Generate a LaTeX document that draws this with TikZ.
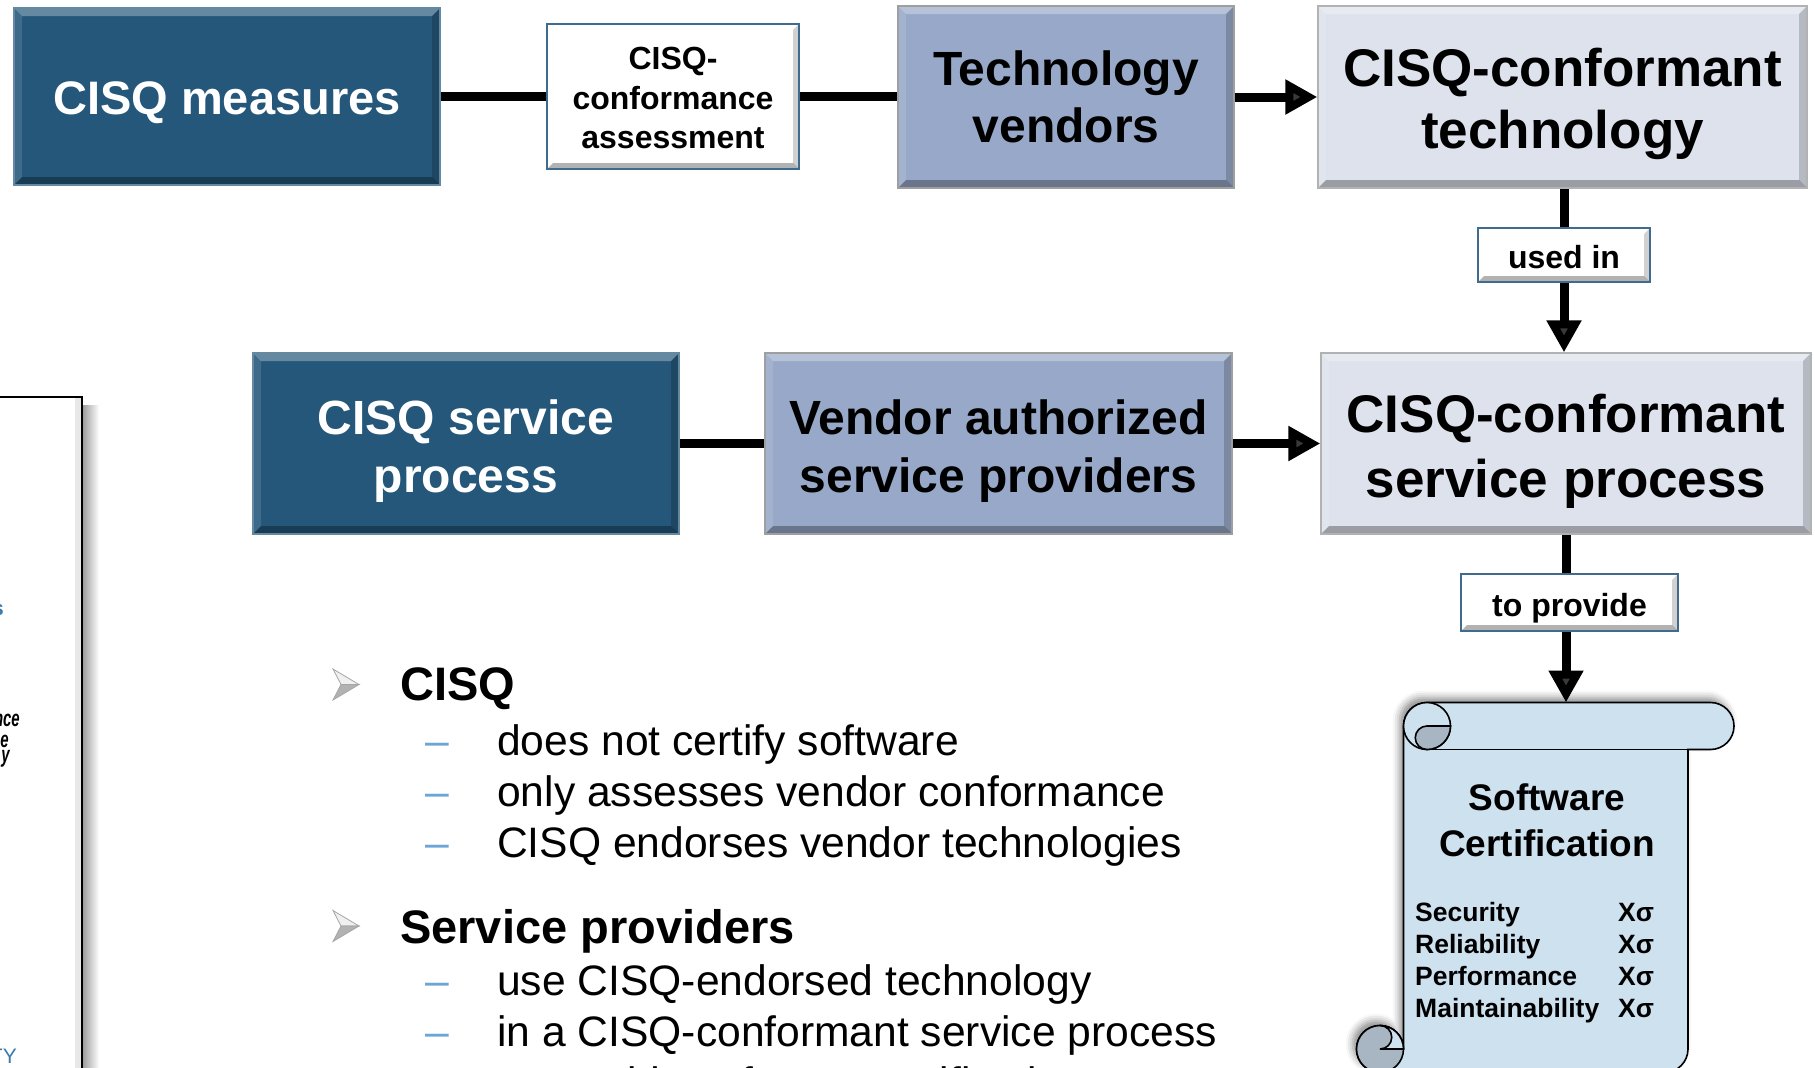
\documentclass[tikz,border=0pt]{standalone}
\usepackage{fontspec}
\usepackage{graphicx}
\setmainfont{Liberation Sans}
\usetikzlibrary{arrows.meta,calc,shadows.blur}
\definecolor{dblue}{HTML}{25577A}
\definecolor{mblue}{HTML}{97A8C8}
\definecolor{lblue}{HTML}{DDE2EC}
\definecolor{bordblue}{HTML}{3F6C8E}
\definecolor{scrollc}{HTML}{CDE1EF}
\definecolor{curlc}{HTML}{A7B6C2}
\definecolor{dashc}{HTML}{6CA6D6}
\definecolor{docblue}{HTML}{3B7AB0}
\tikzset{
  bevel/.style={path picture={
    \coordinate (bnw) at (path picture bounding box.north west);
    \coordinate (bne) at (path picture bounding box.north east);
    \coordinate (bsw) at (path picture bounding box.south west);
    \coordinate (bse) at (path picture bounding box.south east);
    \fill[white,opacity=.30] (bnw) -- (bne) -- ($(bne)+(-#1,#1)$) -- ($(bnw)+(#1,#1)$) -- cycle;
    \fill[white,opacity=.12] (bnw) -- ($(bnw)+(#1,#1)$) -- ($(bsw)+(#1,-#1)$) -- (bsw) -- cycle;
    \fill[black,opacity=.18] (bne) -- (bse) -- ($(bse)+(-#1,-#1)$) -- ($(bne)+(-#1,#1)$) -- cycle;
    \fill[black,opacity=.30] (bsw) -- (bse) -- ($(bse)+(-#1,-#1)$) -- ($(bsw)+(#1,-#1)$) -- cycle;
  }},
  box/.style={rectangle, inner sep=0pt, line width=1.2pt},
  darkbox/.style={box, fill=dblue, draw=dblue!70!white, bevel=8},
  midbox/.style={box, fill=mblue, draw=gray!75, bevel=8},
  lightbox/.style={box, fill=lblue, draw=gray!60, bevel=8},
  tagbox/.style={box, fill=white, draw=bordblue, line width=1.8pt, bevel=6},
  boxtext/.style={inner sep=0pt, align=center},
  darktext/.style={boxtext, text=white, font=\fontsize{47}{58}\selectfont\bfseries},
  midtext/.style={boxtext, font=\fontsize{48}{57}\selectfont\bfseries},
  lighttext/.style={boxtext, font=\fontsize{53}{62}\selectfont\bfseries},
  tagtext/.style={boxtext, font=\fontsize{32}{39.5}\selectfont\bfseries},
  link/.style={line width=9pt},
  arrowlink/.style={link, -{Triangle[length=32pt,width=33pt]}},
  head/.style={inner sep=0pt, anchor=base west, font=\fontsize{47}{56}\selectfont\bfseries},
  item/.style={inner sep=0pt, anchor=base west, font=\fontsize{42.6}{51}\selectfont},
  itemdash/.style={inner sep=0pt, anchor=base west, text=dashc, font=\fontsize{42.6}{51}\selectfont},
  certtext/.style={inner sep=0pt, anchor=base, font=\fontsize{37}{45}\selectfont\bfseries},
  metric/.style={inner sep=0pt, anchor=base west, font=\fontsize{26.5}{32}\selectfont\bfseries},
  frag/.style={inner sep=0pt, anchor=base east, font=\fontsize{23}{24}\selectfont\bfseries\itshape},
  scrollline/.style={line width=1.6pt},
}
\newcommand\arrbullet[2]{%
  \filldraw[fill=gray!12, draw=gray!70, line width=0.8pt] (#1,#2-15.5) -- (#1+26,#2) -- (#1+8,#2) -- cycle;
  \filldraw[fill=gray!60, draw=gray!70, line width=0.8pt] (#1,#2+15.5) -- (#1+26,#2) -- (#1+8,#2) -- cycle;}
\begin{document}
\begin{tikzpicture}[x=1pt,y=-1pt]
\useasboundingbox (0,0) rectangle (1815,1068);
\clip (0,0) rectangle (1815,1068);

% partial document page at left
\fill[white] (-20,397) rectangle (82,1090);
\fill[gray!18] (75,398) rectangle (82,1090);
\shade[left color=gray!80, right color=white] (82,405) rectangle (99,1090);
\draw[line width=1.6pt] (-20,397) -- (82,397) -- (82,1090);
\node[inner sep=0pt, anchor=base east, text=docblue, font=\fontsize{21}{22}\selectfont\bfseries] (fs) at (4,615) {s};
\node[frag] (fnce) at (20,726) {\scalebox{0.65}[1]{nce}};
\node[frag] (fe) at (9,747) {\scalebox{0.65}[1]{e}};
\node[frag] (fy) at (10,762) {\scalebox{0.65}[1]{y}};
\node[inner sep=0pt, anchor=base east, text=docblue, font=\fontsize{21}{24}\selectfont] (fty) at (17,1063) {TY};

% top row boxes
\node[darkbox, minimum width=426pt, minimum height=177pt] (A) at (227,96.5) {};
\node[tagbox, line width=1.5pt, minimum width=252pt, minimum height=145pt] (B) at (673,96.5) {};
\node[midbox, minimum width=336pt, minimum height=182pt] (C) at (1066,97) {};
\node[lightbox, minimum width=489pt, minimum height=182pt] (D) at (1562.5,97) {};
\node[tagbox, minimum width=172pt, minimum height=54pt] (U) at (1564,255) {};
% middle row boxes
\node[darkbox, minimum width=426pt, minimum height=181pt] (F) at (466,443.5) {};
\node[midbox, minimum width=467pt, minimum height=181pt] (G) at (998.5,443.5) {};
\node[lightbox, minimum width=490pt, minimum height=181pt] (E) at (1566,443.5) {};
\node[tagbox, minimum width=217pt, minimum height=57pt] (P) at (1569.5,602.5) {};

% box texts
\node[darktext] (At) at (227,102.5) {CISQ measures};
\node[tagtext] (Bt) at (673,98) {CISQ-\\conformance\\assessment};
\node[midtext] (Ct) at (1066,97) {Technology\\vendors};
\node[lighttext] (Dt) at (1562.5,103.5) {CISQ-conformant\\technology};
\node[tagtext] (Ut) at (1564,257) {used in};
\node[darktext, font=\fontsize{48}{58}\selectfont\bfseries] (Ft) at (466,451) {CISQ service\\process};
\node[midtext, font=\fontsize{48}{58}\selectfont\bfseries] (Gt) at (998.5,451) {Vendor authorized\\service providers};
\node[lighttext, font=\fontsize{53}{65}\selectfont\bfseries] (Et) at (1566,451) {CISQ-conformant\\service process};
\node[tagtext] (Pt) at (1569.5,608.5) {to provide};

% scroll
\coordinate (ST) at (1566,702.5);
\path[fill=scrollc, draw=black, scrollline,
      blur shadow={shadow xshift=-4pt, shadow yshift=5pt, shadow blur radius=7pt, shadow opacity=45}]
  (1403.5,726) arc[start angle=180, end angle=270, radius=23.5]
  -- (1710.5,702.5) arc[start angle=-90, end angle=90, radius=23.5]
  -- (1688,749.5) -- (1688,1049) arc[start angle=0, end angle=90, radius=23.5]
  -- (1380,1072.5) arc[start angle=90, end angle=360, radius=23.5]
  -- cycle;
\filldraw[fill=scrollc, scrollline] (1427,726) circle[radius=23.5];
\filldraw[fill=curlc, scrollline] (1427,726) -- (1450.5,726) arc[start angle=0, end angle=90, radius=23.5]
  arc[start angle=90, end angle=270, radius=11.75] -- cycle;
\draw[scrollline] (1427,749.5) -- (1710.5,749.5);
\filldraw[fill=curlc, scrollline] (1380,1049) circle[radius=23.5];
\filldraw[fill=scrollc, scrollline] (1380,1025.5) arc[start angle=-90, end angle=90, radius=11.75]
  -- (1403.5,1049) arc[start angle=0, end angle=-90, radius=23.5] -- cycle;

\node[certtext] (cert1) at (1547,810.5) {Software};
\node[certtext] (cert2) at (1547,856) {Certification};
\node[metric] (m1) at (1415,921) {Security};
\node[metric] (m2) at (1415,953) {Reliability};
\node[metric] (m3) at (1415,985) {Performance};
\node[metric] (m4) at (1415,1017) {Maintainability};
\node[metric] (x1) at (1618,921) {Xσ};
\node[metric] (x2) at (1618,953) {Xσ};
\node[metric] (x3) at (1618,985) {Xσ};
\node[metric] (x4) at (1618,1017) {Xσ};

% connectors
\draw[link] (A.east) -- (B.west);
\draw[link] (B.east) -- (B.east -| C.west);
\draw[arrowlink] (C.east) -- (C.east -| D.west);
\draw[link] (D.south -| U.north) -- (U.north);
\draw[arrowlink] (U.south) -- (U.south |- E.north);
\draw[link] (F.east) -- (G.west);
\draw[arrowlink] (G.east) -- (G.east -| E.west);
\draw[link] (E.south -| ST) -- (P.north -| ST);
\draw[arrowlink] (P.south -| ST) -- (ST);

% bullets
\arrbullet{333}{684.5}
\node[head] (h1) at (400,700) {CISQ};
\node[itemdash] (d1) at (425,755) {–};
\node[item] (i1) at (497,755) {does not certify software};
\node[itemdash] (d2) at (425,806.5) {–};
\node[item] (i2) at (497,806.5) {only assesses vendor conformance};
\node[itemdash] (d3) at (425,857.5) {–};
\node[item] (i3) at (497,857.5) {CISQ endorses vendor technologies};

\arrbullet{333}{926}
\node[head] (h2) at (400,943) {Service providers};
\node[itemdash] (d4) at (425,995.5) {–};
\node[item] (i4) at (497,995.5) {use CISQ-endorsed technology};
\node[itemdash] (d5) at (425,1046.5) {–};
\node[item] (i5) at (497,1046.5) {in a CISQ-conformant service process};
\node[item] (i6) at (497,1097.5) {to provide software certification};
\end{tikzpicture}
\end{document}
